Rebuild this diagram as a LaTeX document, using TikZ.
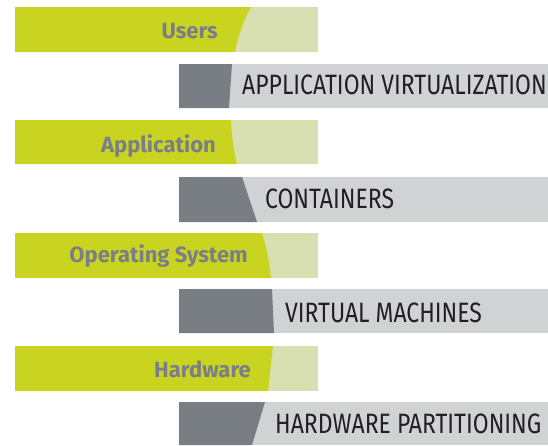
\documentclass[tikz,border=0pt]{standalone}
\usepackage{fontspec}
\setmainfont{Fira Sans}
\newfontfamily\labelfont{Fira Sans}
\newfontfamily\condfont{Fira Sans}[FakeStretch=0.82]
\definecolor{limeg}{HTML}{C8D420}
\definecolor{paleg}{HTML}{D8E0B2}
\definecolor{darkg}{HTML}{787E84}
\definecolor{lightgr}{HTML}{D1D2D4}
\definecolor{labelgr}{HTML}{7A7E88}
\definecolor{textdk}{HTML}{231F20}
\tikzset{
  labtxt/.style={anchor=base east, inner sep=0pt, text=labelgr, font=\labelfont\bfseries\fontsize{22}{22}\selectfont},
  captxt/.style={anchor=base west, inner sep=0pt, text=textdk, font=\condfont\fontsize{28}{28}\selectfont},
}
\begin{document}
\begin{tikzpicture}[x=1pt,y=-1pt]
\useasboundingbox (0,0) rectangle (548,445);
% green bars
\fill[paleg] (15,7) rectangle (318,52);
\fill[limeg] (15,7) -- (251,7) .. controls (245,18) and (238,35) .. (235,52) -- (15,52) -- cycle;
\fill[paleg] (15,120) rectangle (318,164);
\fill[limeg] (15,120) -- (231,120) .. controls (232,140) and (234,152) .. (237,164) -- (15,164) -- cycle;
\fill[paleg] (15,233) rectangle (318,278);
\fill[limeg] (15,233) -- (262,233) .. controls (266,245) and (269,260) .. (271,278) -- (15,278) -- cycle;
\fill[paleg] (15,346) rectangle (318,391);
\fill[limeg] (15,346) -- (273,346) -- (268,391) -- (15,391) -- cycle;
% gray bars
\fill[lightgr] (179,64) rectangle (548,108);
\fill[darkg] (179,64) -- (232,64) -- (229,108) -- (179,108) -- cycle;
\fill[lightgr] (179,177) rectangle (548,222);
\fill[darkg] (179,177) -- (242,177) -- (257,222) -- (179,222) -- cycle;
\fill[lightgr] (179,289) rectangle (548,333);
\fill[darkg] (179,289) -- (272,289) -- (274,333) -- (179,333) -- cycle;
\fill[lightgr] (179,402) rectangle (548,445);
\fill[darkg] (179,402) -- (265,402) -- (252,445) -- (179,445) -- cycle;
% labels
\node[labtxt] (users) at (218,38) {Users};
\node[labtxt] (app) at (216,152) {Application};
\node[labtxt] (os) at (248,262) {Operating System};
\node[labtxt] (hw) at (251,377) {Hardware};
\node[captxt] (av) at (242,94) {APPLICATION VIRTUALIZATION};
\node[captxt] (ct) at (265,208) {CONTAINERS};
\node[captxt] (vm) at (285,322) {VIRTUAL MACHINES};
\node[captxt] (hp) at (275,433) {HARDWARE PARTITIONING};
\end{tikzpicture}
\end{document}
